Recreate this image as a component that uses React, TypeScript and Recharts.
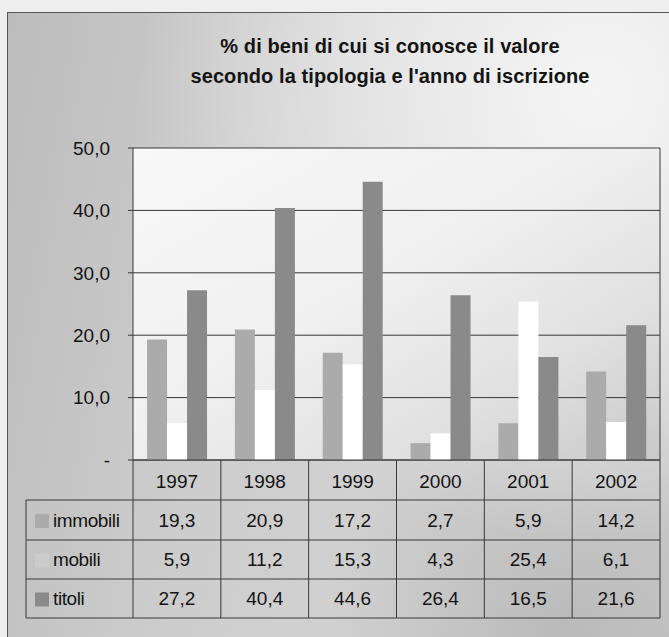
import React from 'react';
import { BarChart, Bar, XAxis, YAxis, CartesianGrid } from 'recharts';

const years = ['1997', '1998', '1999', '2000', '2001', '2002'];
const immobili = [19.3, 20.9, 17.2, 2.7, 5.9, 14.2];
const mobili = [5.9, 11.2, 15.3, 4.3, 25.4, 6.1];
const titoli = [27.2, 40.4, 44.6, 26.4, 16.5, 21.6];
const yTicks = [0, 10, 20, 30, 40, 50];
const seriesNames = ['immobili', 'mobili', 'titoli'];
const seriesValues = [immobili, mobili, titoli];
const seriesColors = ['#ababab', '#ffffff', '#8a8a8a'];
const titleLines = ['% di beni di cui si conosce il valore', "secondo la tipologia e l'anno di iscrizione"];

const data = years.map((y, i) => ({ year: y, immobili: immobili[i], mobili: mobili[i], titoli: titoli[i] }));

const W = 669;
const H = 637;
const XAXIS_H = 177;
const MARGIN = { top: 148, right: 9, bottom: 0, left: 73 };
const YAXIS_W = 60;
const PLOT_W = W - MARGIN.left - YAXIS_W - MARGIN.right;
const BAND = PLOT_W / years.length;
const ROW_EDGES = [0, 40, 80, 119, 158];
const TABLE_LEFT = 26;
const FONT = "'Liberation Sans', Arial, sans-serif";
const LINE = '#383838';
const TXT = '#141414';

const fmt = (v: number) => (v === 0 ? '-' : v.toFixed(1).replace('.', ','));

function TableTick(props: any) {
  const { x, y, payload, index } = props;
  const i = typeof index === 'number' ? index : years.indexOf(payload.value);
  const left = x - BAND / 2;
  const right = x + BAND / 2;
  const els: React.ReactNode[] = [];
  els.push(<line key="vl" x1={left} x2={left} y1={y} y2={y + ROW_EDGES[4]} stroke={LINE} strokeWidth={1} />);
  if (i === years.length - 1) {
    els.push(<line key="vr" x1={right} x2={right} y1={y} y2={y + ROW_EDGES[4]} stroke={LINE} strokeWidth={1} />);
  }
  for (let r = 1; r < ROW_EDGES.length; r++) {
    els.push(<line key={'h' + r} x1={left} x2={right} y1={y + ROW_EDGES[r]} y2={y + ROW_EDGES[r]} stroke={LINE} strokeWidth={1} />);
  }
  els.push(
    <text key="yr" x={x} y={y + 21} dy="0.36em" textAnchor="middle" fontSize={19} fontFamily={FONT} fill={TXT}>
      {payload.value}
    </text>
  );
  seriesValues.forEach((vals, r) => {
    const cy = (ROW_EDGES[r + 1] + ROW_EDGES[r + 2]) / 2;
    els.push(
      <text key={'v' + r} x={x} y={y + cy} dy="0.36em" textAnchor="middle" fontSize={19} fontFamily={FONT} fill={TXT}>
        {fmt(vals[i])}
      </text>
    );
  });
  if (i === 0) {
    for (let r = 1; r < ROW_EDGES.length; r++) {
      els.push(<line key={'lh' + r} x1={TABLE_LEFT} x2={left} y1={y + ROW_EDGES[r]} y2={y + ROW_EDGES[r]} stroke={LINE} strokeWidth={1} />);
    }
    els.push(<line key="ll" x1={TABLE_LEFT} x2={TABLE_LEFT} y1={y + ROW_EDGES[1]} y2={y + ROW_EDGES[4]} stroke={LINE} strokeWidth={1} />);
    seriesNames.forEach((name, r) => {
      const cy = (ROW_EDGES[r + 1] + ROW_EDGES[r + 2]) / 2;
      els.push(
        <rect key={'sq' + r} x={TABLE_LEFT + 9} y={y + cy - 6} width={14} height={14}
          fill={seriesColors[r]} fillOpacity={r === 1 ? 0.12 : 1} />
      );
      els.push(
        <text key={'n' + r} x={TABLE_LEFT + 27} y={y + cy} dy="0.36em" textAnchor="start" fontSize={19} fontFamily={FONT} fill={TXT} letterSpacing={-0.4}>
          {name}
        </text>
      );
    });
  }
  return <g>{els}</g>;
}

export default function App() {
  return (
    <div style={{ position: 'relative', width: W, height: H, overflow: 'hidden', background: '#eeeeee' }}>
      <style>{`body{margin:0;overflow:hidden}`}</style>
      <div
        style={{
          position: 'absolute', left: 7, top: 12, width: W + 20, height: H + 20,
          borderLeft: '1px solid #555', borderTop: '1px solid #555',
          background:
            'radial-gradient(ellipse at 85% 12%, rgba(246,246,246,0.95) 0%, rgba(240,240,240,0.6) 25%, rgba(230,230,230,0) 55%), radial-gradient(ellipse at 80% 95%, rgba(170,170,170,0.7) 0%, rgba(190,190,190,0.3) 30%, rgba(200,200,200,0) 55%), linear-gradient(100deg, #bcbcbc 0%, #c9c9c9 25%, #d9d9d9 55%, #dedede 80%, #d0d0d0 100%)',
        }}
      />
      {titleLines.map((t, k) => (
        <div
          key={k}
          style={{
            position: 'absolute', left: 120, width: 540, top: 34 + k * 30, textAlign: 'center',
            fontFamily: FONT, fontWeight: 'bold', fontSize: 20, color: TXT, lineHeight: '24px',
            letterSpacing: '0.1px',
          }}
        >
          {t}
        </div>
      ))}
      <div style={{ position: 'absolute', left: 0, top: 0 }}>
        <BarChart width={W} height={H} data={data} margin={MARGIN} barCategoryGap="16%" barGap={0}>
          <defs>
            <linearGradient id="plotBg" x1="0" y1="0" x2="1" y2="1">
              <stop offset="0%" stopColor="#f8f8f8" />
              <stop offset="45%" stopColor="#f0f0f0" />
              <stop offset="75%" stopColor="#e0e0e0" />
              <stop offset="100%" stopColor="#c8c8c8" />
            </linearGradient>
          </defs>
          <CartesianGrid
            stroke={LINE}
            strokeOpacity={1}
            fill="url(#plotBg)"
            fillOpacity={1}
            vertical={true}
            verticalCoordinatesGenerator={({ offset }: any) => [offset.left + offset.width]}
          />
          <XAxis
            dataKey="year"
            height={XAXIS_H}
            tickLine={false}
            tickSize={0}
            tickMargin={0}
            axisLine={{ stroke: LINE }}
            tick={<TableTick />}
            interval={0}
          />
          <YAxis
            width={YAXIS_W}
            domain={[0, 50]}
            ticks={yTicks}
            tickFormatter={fmt}
            tickSize={5}
            tickMargin={18}
            axisLine={{ stroke: LINE }}
            tickLine={{ stroke: LINE }}
            tick={{ fontSize: 19, fill: TXT, fontFamily: FONT }}
            allowDataOverflow
          />
          <Bar dataKey="immobili" fill={seriesColors[0]} isAnimationActive={false} />
          <Bar dataKey="mobili" fill={seriesColors[1]} isAnimationActive={false} />
          <Bar dataKey="titoli" fill={seriesColors[2]} isAnimationActive={false} />
        </BarChart>
      </div>
    </div>
  );
}
